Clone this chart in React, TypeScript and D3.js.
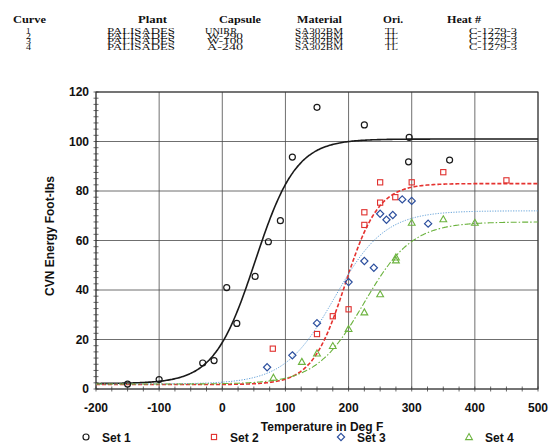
import React from "react";
import * as d3 from "d3";

// ---- header table ----
const tableHeaders = ["Curve", "Plant", "Capsule", "Material", "Ori.", "Heat #"];
const curveIds = ["1", "2", "3", "4"];
const plants = ["PALISADES", "PALISADES", "PALISADES", "PALISADES"];
const capsules = ["UNIRR", "W-290", "W-100", "A-240"];
const materials = ["SA302BM", "SA302BM", "SA302BM", "SA302BM"];
const orientations = ["TL", "TL", "TL", "TL"];
const heats = ["C-1279-3", "C-1279-3", "C-1279-3", "C-1279-3"];

// ---- axes ----
const xTicks = [-200, -100, 0, 100, 200, 300, 400, 500];
const yTicks = [0, 20, 40, 60, 80, 100, 120];
const seriesNames = ["Set 1", "Set 2", "Set 3", "Set 4"];

// ---- data [temperature, energy] ----
const set1: [number, number][] = [
  [-150, 2], [-100, 3.8], [-31, 10.5], [-13, 11.5], [7, 41], [23, 26.5], [52, 45.5],
  [73, 59.5], [92, 68], [111, 93.7], [150, 113.8], [225, 106.7], [296, 101.7],
  [295, 91.8], [360, 92.5],
];
const set2: [number, number][] = [
  [80, 16.3], [150, 22.2], [175, 29.4], [200, 32.2], [225, 66.3], [225, 71.4],
  [250, 75.3], [274, 77.5], [250, 83.5], [300, 83.5], [350, 87.6], [450, 84.3],
];
const set3: [number, number][] = [
  [71, 8.8], [111, 13.6], [150, 26.6], [200, 43.2], [225, 51.7], [240, 49],
  [250, 70.8], [260, 68.4], [270, 70.3], [285, 76.6], [300, 76], [326, 66.8],
];
const set4: [number, number][] = [
  [81, 4.6], [126, 11], [150, 14.4], [175, 17.4], [200, 24.3], [225, 31], [250, 38.3],
  [275, 53.2], [275, 52], [300, 67.2], [350, 68.6], [400, 67.2],
];

// ---- tanh fit parameters per curve: lower shelf, upper shelf, T0, C ----
const fitLower = [2.2, 1.8, 2.0, 2.0];
const fitUpper = [101, 83, 72, 67.5];
const fitT0 = [52, 194.7, 178, 224.5];
const fitC = [65, 52.8, 79, 76];

const W = 552;
const H = 443;
const left = 96;
const right = 538;
const top = 92;
const bottom = 389;

const serif = "'Liberation Serif', 'Times New Roman', serif";
const sans = "'Liberation Sans', Arial, sans-serif";

const colors = ["#1a1a1a", "#e0302e", "#2c4f9e", "#6cb33f"];
const lineColors = ["#1a1a1a", "#e5322f", "#5f9fd8", "#6cb33f"];
const dashes = ["none", "4,2", "1.2,1.4", "6,2,1.5,2"];
const lineWidths = [1.6, 1.6, 1.0, 1.1];

function Marker({ kind, x, y }: { kind: number; x: number; y: number }) {
  const c = colors[kind];
  if (kind === 0)
    return <circle cx={x} cy={y} r={3} fill="none" stroke={c} strokeWidth={1.2} />;
  if (kind === 1)
    return <rect x={x - 2.6} y={y - 2.6} width={5.2} height={5.2} fill="none" stroke={c} strokeWidth={1.1} />;
  if (kind === 2)
    return (
      <path d={`M${x},${y - 3.6}L${x + 3.6},${y}L${x},${y + 3.6}L${x - 3.6},${y}Z`} fill="none" stroke={c} strokeWidth={1.2} />
    );
  return (
    <path d={`M${x},${y - 3.4}L${x + 3.4},${y + 2.6}L${x - 3.4},${y + 2.6}Z`} fill="none" stroke={c} strokeWidth={1.1} />
  );
}

export default function App() {
  const x = d3.scaleLinear().domain([-200, 500]).range([left, right]);
  const y = d3.scaleLinear().domain([0, 120]).range([bottom, top]);
  const sets = [set1, set2, set3, set4];

  const temps = d3.range(-200, 501, 2);
  const lineGen = d3
    .line<[number, number]>()
    .x((d) => x(d[0]))
    .y((d) => y(d[1]))
    .curve(d3.curveMonotoneX);
  const curves = fitLower.map((lo, i) => {
    const A = (lo + fitUpper[i]) / 2;
    const B = (fitUpper[i] - lo) / 2;
    return temps.map((t) => [t, A + B * Math.tanh((t - fitT0[i]) / fitC[i])] as [number, number]);
  });

  const xMinor = d3.range(-200, 501, 25);
  const yMinor = d3.range(0, 120.1, 2.5);

  // header layout
  const headX = [13, 138, 219, 297, 383, 447];
  const headW = [33, 29, 42, 45, 20, 34];
  const rowBase = [33.7, 39, 44.3, 49.6];
  const cols: { vals: string[]; x: number[]; w: number[] }[] = [
    { vals: curveIds, x: [26, 26, 26, 26], w: [4.5, 5, 5, 5] },
    { vals: plants, x: [107, 107, 107, 107], w: [68, 68, 68, 68] },
    { vals: capsules, x: [205, 207, 207, 207], w: [32, 36, 36, 36] },
    { vals: materials, x: [295, 295, 295, 295], w: [48, 48, 48, 48] },
    { vals: orientations, x: [385, 385, 385, 385], w: [13, 13, 13, 13] },
    { vals: heats, x: [469, 469, 469, 469], w: [48, 48, 48, 48] },
  ];

  const legendX = [86, 214, 341, 469];

  return (
    <svg
      width={W}
      height={H}
      style={{ position: "absolute", left: 0, top: 0, background: "#fff" }}
      xmlns="http://www.w3.org/2000/svg"
    >
      <rect x={0} y={0} width={W} height={H} fill="#fff" />
      {/* header table */}
      <g fontFamily={serif} fill="#111">
        {tableHeaders.map((h, i) => (
          <text key={h} x={headX[i]} y={23.3} fontSize={11} fontWeight="bold" textLength={headW[i]} lengthAdjust="spacingAndGlyphs">
            {h}
          </text>
        ))}
        {cols.map((c, ci) =>
          c.vals.map((v, ri) => (
            <text key={`${ci}-${ri}`} x={c.x[ri]} y={rowBase[ri]} fontSize={8.2} textLength={c.w[ri]} lengthAdjust="spacingAndGlyphs">
              {v}
            </text>
          ))
        )}
      </g>

      {/* grid */}
      <g stroke="#4a4a4a" strokeWidth={0.8}>
        {xTicks.map((t) => (
          <line key={`gx${t}`} x1={x(t)} x2={x(t)} y1={top} y2={bottom} />
        ))}
        {yTicks.map((t) => (
          <line key={`gy${t}`} x1={left} x2={right} y1={y(t)} y2={y(t)} />
        ))}
      </g>
      {/* minor ticks */}
      <g stroke="#444" strokeWidth={0.8}>
        {xMinor.map((t) => (
          <line key={`mx${t}`} x1={x(t)} x2={x(t)} y1={bottom - 2.5} y2={bottom + 2.5} />
        ))}
        {yMinor.map((t) => (
          <line key={`my${t}`} x1={left - 2.5} x2={left + 2.5} y1={y(t)} y2={y(t)} />
        ))}
      </g>
      <rect x={left} y={top} width={right - left} height={bottom - top} fill="none" stroke="#333" strokeWidth={1} />

      {/* tick labels */}
      <g fontFamily={sans} fontWeight="bold" fontSize={12} fill="#111">
        {yTicks.map((t) => (
          <text key={`ly${t}`} x={left - 7} y={y(t)} dy="0.36em" textAnchor="end">
            {t}
          </text>
        ))}
        {xTicks.map((t) => (
          <text key={`lx${t}`} x={x(t)} y={411.5} textAnchor="middle">
            {t}
          </text>
        ))}
        <text x={322} y={431} textAnchor="middle">Temperature in Deg F</text>
        <text transform={`translate(54,236) rotate(-90)`} textAnchor="middle">CVN Energy Foot-lbs</text>
      </g>

      {/* fitted curves */}
      {curves.map((c, i) => (
        <path
          key={`c${i}`}
          d={lineGen(c) || ""}
          fill="none"
          stroke={lineColors[i]}
          strokeWidth={lineWidths[i]}
          strokeDasharray={dashes[i]}
        />
      ))}

      {/* points */}
      {sets.map((s, si) =>
        s.map((d, di) => <Marker key={`p${si}-${di}`} kind={si} x={x(d[0])} y={y(d[1])} />)
      )}

      {/* legend */}
      <g fontFamily={sans} fontWeight="bold" fontSize={12} fill="#111">
        {seriesNames.map((n, i) => (
          <g key={n}>
            <Marker kind={i} x={legendX[i]} y={437} />
            <text x={legendX[i] + 16} y={441.5}>{n}</text>
          </g>
        ))}
      </g>
    </svg>
  );
}
